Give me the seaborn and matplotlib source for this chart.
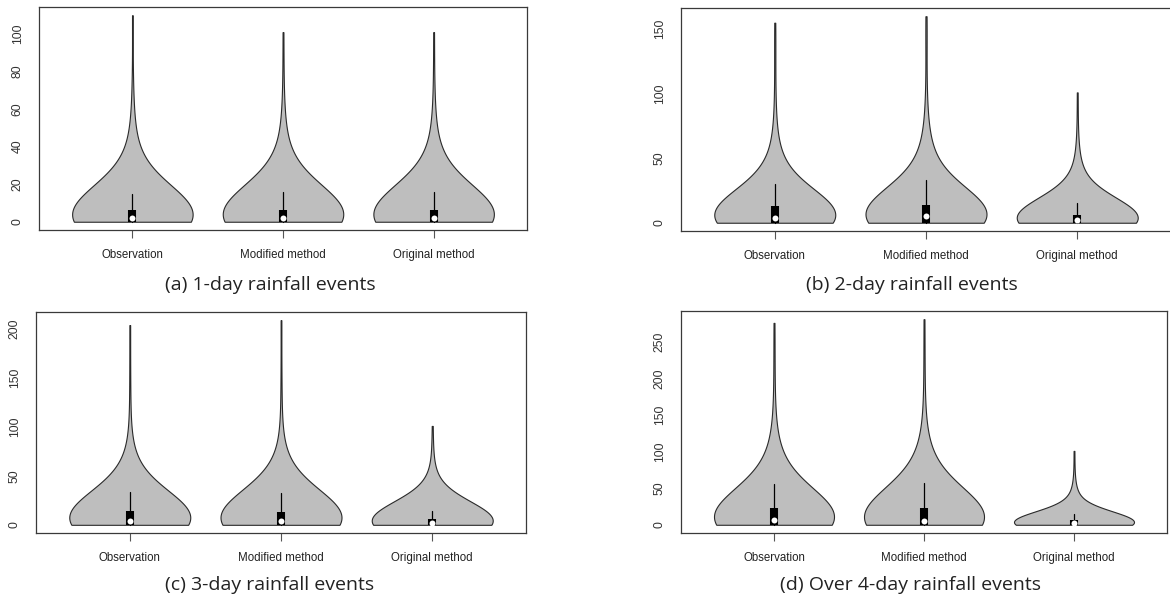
import numpy as np
import matplotlib
matplotlib.use("Agg")
import matplotlib.pyplot as plt
import matplotlib.cbook as cbook
import seaborn as sns

# ===================== Data =====================
# rainfall depth classes (mm) and number of events per class
methods = ["Observation", "Modified method", "Original method"]

# (a) 1-day events
day1_obs_mm = [0, 1, 2, 4, 6, 10, 15, 20, 30, 40, 55, 75, 110]
day1_obs_n = [55, 25, 30, 20, 22, 16, 10, 8, 6, 4, 2, 1, 1]
day1_mod_mm = [0, 1, 2, 4, 6.5, 10, 16, 20, 30, 40, 55, 75, 101]
day1_mod_n = [52, 26, 32, 20, 22, 16, 10, 8, 6, 4, 2, 1, 1]
day1_org_mm = [0, 1, 2, 4, 6.5, 10, 16, 20, 30, 40, 55, 75, 101]
day1_org_n = [52, 26, 32, 20, 22, 16, 10, 8, 6, 4, 2, 1, 1]

# (b) 2-day events
day2_obs_mm = [0, 2, 4, 6, 9, 13, 15, 20, 30, 40, 55, 75, 100, 130, 155]
day2_obs_n = [52, 28, 30, 15, 15, 18, 6, 10, 10, 7, 4, 2, 1, 1, 1]
day2_mod_mm = [0, 2, 5, 7, 10, 14, 17, 22, 33, 45, 60, 80, 105, 140, 160]
day2_mod_n = [52, 28, 30, 15, 15, 18, 6, 10, 10, 7, 4, 2, 1, 1, 1]
day2_org_mm = [0, 1, 2, 4, 6, 10, 15, 20, 30, 40, 55, 75, 101]
day2_org_n = [55, 25, 30, 20, 22, 16, 10, 8, 6, 4, 2, 1, 1]

# (c) 3-day events
day3_obs_mm = [0, 2, 4, 7, 10, 14, 18, 25, 34, 45, 60, 80, 110, 150, 204]
day3_obs_n = [52, 28, 30, 15, 15, 18, 6, 10, 10, 7, 4, 2, 1, 1, 1]
day3_mod_mm = [0, 2, 4, 7, 10, 13.5, 18, 25, 33, 45, 60, 80, 110, 150, 209]
day3_mod_n = [52, 28, 30, 15, 15, 18, 6, 10, 10, 7, 4, 2, 1, 1, 1]
day3_org_mm = [0, 1, 2, 4, 6, 10, 14.5, 20, 30, 40, 55, 75, 101]
day3_org_n = [55, 25, 30, 20, 22, 16, 10, 8, 6, 4, 2, 1, 1]

# (d) over 4-day events
day4_obs_mm = [0, 3, 6.5, 10, 16, 23, 30, 42, 56, 75, 100, 130, 170, 220, 276]
day4_obs_n = [52, 28, 30, 15, 15, 18, 6, 10, 10, 7, 4, 2, 1, 1, 1]
day4_mod_mm = [0, 3, 5, 10, 16, 23, 30, 42, 57, 75, 100, 130, 170, 220, 281]
day4_mod_n = [52, 28, 30, 15, 15, 18, 6, 10, 10, 7, 4, 2, 1, 1, 1]
day4_org_mm = [0, 1, 2, 4, 6, 10, 15, 20, 30, 40, 55, 75, 101]
day4_org_n = [55, 25, 30, 20, 22, 16, 10, 8, 6, 4, 2, 1, 1]

captions = ["(a) 1-day rainfall events", "(b) 2-day rainfall events",
            "(c) 3-day rainfall events", "(d) Over 4-day rainfall events"]
yticks_list = [[0, 20, 40, 60, 80, 100], [0, 50, 100, 150],
               [0, 50, 100, 150, 200], [0, 50, 100, 150, 200, 250]]

# kernel bandwidth (mm) per violin
bandwidths = [[15, 15, 15], [19, 20, 15], [26, 27, 19], [37, 38, 14]]

panel_groups = [
    [(day1_obs_mm, day1_obs_n), (day1_mod_mm, day1_mod_n), (day1_org_mm, day1_org_n)],
    [(day2_obs_mm, day2_obs_n), (day2_mod_mm, day2_mod_n), (day2_org_mm, day2_org_n)],
    [(day3_obs_mm, day3_obs_n), (day3_mod_mm, day3_mod_n), (day3_org_mm, day3_org_n)],
    [(day4_obs_mm, day4_obs_n), (day4_mod_mm, day4_mod_n), (day4_org_mm, day4_org_n)],
]

# ===================== Layout =====================
W, H = 1170, 601
axes_px = [(39, 7, 527, 230), (681, 8, 1171, 231), (36, 312, 526, 533), (681, 311, 1167, 533)]
caption_px = [(270, 285), (912, 285), (270, 585), (911, 585)]

sns.set_style("white")
plt.rcParams["font.family"] = ["Liberation Sans", "DejaVu Sans"]

fig = plt.figure(figsize=(W / 100, H / 100), dpi=100)

for p in range(4):
    l, t, r, b = axes_px[p]
    ax = fig.add_axes([l / W, 1 - b / H, (r - l) / W, (b - t) / H])
    ymax = 0
    for i, (mm, n) in enumerate(panel_groups[p]):
        vals = np.repeat(np.asarray(mm, dtype=float), n)
        ymax = max(ymax, vals.max())
        sns.violinplot(x=np.repeat(methods[i], len(vals)), y=vals, order=methods,
                       cut=0, density_norm="width", width=0.8, inner=None,
                       color="#bebebe", saturation=1, linecolor="#2a2a2a", linewidth=0.8,
                       bw_method=bandwidths[p][i] / vals.std(ddof=1), gridsize=300, ax=ax)
        st = cbook.boxplot_stats(vals)[0]
        ax.plot([i, i], [st["whislo"], st["whishi"]], color="black", lw=0.9, zorder=3)
        ax.plot([i, i], [st["q1"], st["q3"]], color="black", lw=5.8,
                solid_capstyle="butt", zorder=4)
        ax.plot(i, st["med"], "o", color="white", ms=4.3, mew=0, zorder=5)

    ax.set_xlim(-0.62, 2.62)
    ax.set_ylim(-0.04 * ymax, 1.04 * ymax)
    ax.set_yticks(yticks_list[p])
    ax.set_xlabel("")
    ax.set_ylabel("")
    for s in ax.spines.values():
        s.set_visible(True)
        s.set_color("#3a3a3a")
        s.set_linewidth(0.9)
    ax.tick_params(axis="x", bottom=True, length=6, width=0.8, color="#555555",
                   pad=8, labelsize=8.3, labelcolor="#222222")
    ax.tick_params(axis="y", left=False, length=0, pad=11, labelsize=8.8,
                   labelcolor="#333333")
    for lab in ax.get_yticklabels():
        lab.set_rotation(90)
        lab.set_va("center")

    fig.text(caption_px[p][0] / W, 1 - caption_px[p][1] / H, captions[p],
             ha="center", va="center", fontsize=14, color="#222222",
             family=["Open Sans", "DejaVu Sans"])

fig.savefig("out.png", dpi=100)
